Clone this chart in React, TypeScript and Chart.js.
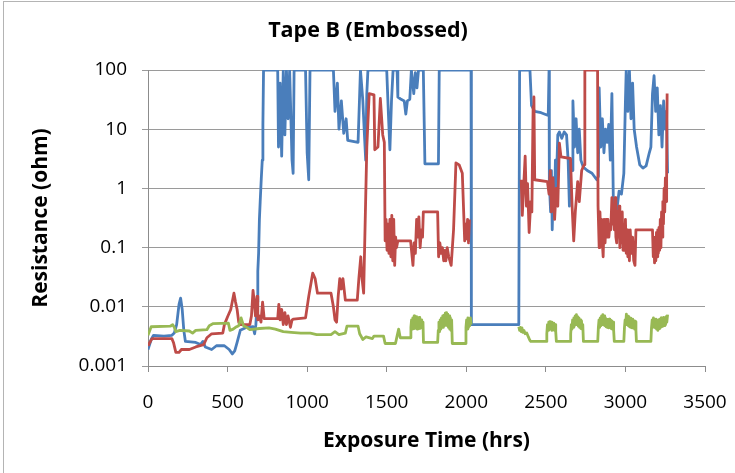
import React, { useEffect, useRef } from "react";
import { Chart, registerables } from "chart.js";

Chart.register(...registerables);

const chartTitle = "Tape B (Embossed)";
const xAxisTitle = "Exposure Time (hrs)";
const yAxisTitle = "Resistance (ohm)";

const xTickValues = [0, 500, 1000, 1500, 2000, 2500, 3000, 3500];
const yTickValues = [0.001, 0.01, 0.1, 1, 10, 100];
const yTickLabels = ["0.001", "0.01", "0.1", "1", "10", "100"];

// [hours, ohm]
const blueSeries: [number, number | null][] = [
  [0, 0.0019], [20, 0.0028], [35, 0.0033], [100, 0.0032], [150, 0.0033], [165, 0.0036],
  [180, 0.005], [195, 0.011], [205, 0.014], [215, 0.009], [225, 0.004], [235, 0.0026],
  [300, 0.0025], [330, 0.0023], [345, 0.0026], [360, 0.0021], [400, 0.0019], [430, 0.0022],
  [480, 0.0022], [510, 0.0019], [530, 0.0016], [545, 0.0018], [560, 0.0025], [580, 0.004],
  [620, 0.0045], [660, 0.0046], [670, 0.0035], [678, 0.005], [685, 0.012], [690, 0.04],
  [695, 0.08], [700, 0.3], [705, 0.6], [712, 1.5], [718, 3], [722, 12], [726, 100],
  [815, 100], [820, 5], [830, 60], [840, 3.5], [850, 100], [860, 8], [870, 100], [880, 15],
  [890, 100], [905, 3], [912, 1.8], [918, 100], [990, 100], [1000, 4], [1010, 1.4],
  [1018, 100], [1165, 100], [1175, 20], [1190, 60], [1200, 10], [1215, 30], [1230, 8.5],
  [1245, 15], [1255, 6.5], [1320, 6], [1335, 100], [1350, 30], [1360, 8], [1368, 3],
  [1375, 40], [1382, 100], [1500, 100], [1510, 20], [1520, 4.5], [1530, 30], [1540, 100],
  [1565, 100], [1570, 35], [1590, 32], [1610, 30], [1620, 18], [1630, 30], [1645, 32],
  [1655, 100], [1670, 40], [1680, 90], [1690, 50], [1700, 100], [1730, 100], [1740, 2.6],
  [1825, 2.6], [1830, 100], [2030, 100], [2032, 0.005], [2330, 0.005], [2335, 100],
  [2400, 100], [2410, 25], [2430, 20], [2470, 19], [2515, 17], [2520, 100], [2522, 1.2],
  [2530, 0.4], [2535, 2], [2540, 0.2], [2548, 1.5], [2555, 0.5], [2560, 3], [2565, 1],
  [2575, 8], [2585, 9], [2600, 7], [2615, 9], [2630, 8], [2640, 3], [2648, 0.5], [2655, 3],
  [2665, 2], [2670, 30], [2680, 5], [2690, 15], [2700, 4], [2710, 10], [2720, 3],
  [2735, 2.3], [2760, 2], [2790, 1.8], [2820, 1.4], [2830, 1.6], [2835, 50], [2845, 5],
  [2855, 15], [2865, 4], [2875, 10], [2885, 6], [2895, 12], [2905, 3], [2915, 40],
  [2925, 0.4], [2935, 0.6], [2945, 0.4], [2960, 0.9], [2975, 0.8], [2990, 1.8], [3000, 30],
  [3005, 100], [3015, 20], [3025, 100], [3035, 15], [3045, 60], [3055, 10], [3070, 5],
  [3090, 2.5], [3110, 2.2], [3130, 2.4], [3150, 4], [3160, 5], [3170, 40], [3180, 80],
  [3190, 20], [3200, 50], [3210, 8], [3220, 25], [3230, 5], [3240, 30], [3250, 10],
  [3258, 20], [3265, 1.8],
];

const redSeries: [number, number | null][] = [
  [0, 0.0022], [25, 0.0029], [150, 0.0029], [160, 0.0025], [175, 0.0017], [195, 0.0017],
  [210, 0.0019], [260, 0.0019], [300, 0.0021], [350, 0.0023], [370, 0.003], [400, 0.0035],
  [470, 0.0036], [480, 0.005], [500, 0.0068], [520, 0.009], [540, 0.017], [550, 0.012],
  [560, 0.009], [570, 0.0055], [580, 0.005], [640, 0.005], [650, 0.007], [660, 0.019],
  [668, 0.012], [675, 0.007], [685, 0.015], [690, 0.006], [700, 0.007], [710, 0.0055],
  [720, 0.012], [730, 0.0063], [815, 0.0063], [822, 0.011], [830, 0.006], [840, 0.009],
  [850, 0.005], [860, 0.008], [870, 0.005], [880, 0.007], [895, 0.0045], [905, 0.006],
  [915, 0.0062], [990, 0.0065], [1010, 0.015], [1035, 0.037], [1050, 0.03], [1065, 0.017],
  [1150, 0.017], [1165, 0.01], [1175, 0.006], [1185, 0.0055], [1195, 0.015], [1205, 0.03],
  [1215, 0.02], [1225, 0.03], [1240, 0.013], [1315, 0.013], [1325, 0.03], [1337, 0.07],
  [1345, 0.03], [1355, 0.017], [1365, 0.3], [1375, 5], [1390, 40], [1420, 38], [1425, 4.5],
  [1445, 5], [1460, 33], [1475, 8], [1485, 6], [1490, 0.13], [1496, 0.3], [1502, 0.09],
  [1508, 0.25], [1514, 0.08], [1520, 0.3], [1526, 0.07], [1532, 0.35], [1538, 0.06],
  [1544, 0.3], [1550, 0.05], [1556, 0.15], [1562, 0.1], [1570, 0.13],
  [1650, 0.13], [1665, 0.05], [1672, 0.12], [1680, 0.08], [1688, 0.3], [1695, 0.15],
  [1702, 0.33], [1710, 0.1], [1718, 0.2], [1725, 0.15], [1730, 0.4], [1820, 0.4],
  [1826, 0.07], [1834, 0.12], [1842, 0.08], [1850, 0.1], [1858, 0.06], [1865, 0.09],
  [1872, 0.06], [1880, 0.1], [1890, 0.07], [1905, 0.05], [1920, 0.2], [1935, 2.7],
  [1955, 2.5], [1975, 1.8], [1990, 0.13], [1996, 0.25], [2002, 0.14], [2008, 0.3],
  [2014, 0.12], [2020, 0.3], [2100, null],
  [2345, 1.4], [2352, 0.35], [2360, 1], [2370, 3.5], [2378, 0.5], [2385, 1.2], [2395, 0.18],
  [2405, 0.6], [2412, 0.4], [2420, 24], [2425, 35], [2430, 1.4], [2510, 1.3], [2520, 0.8],
  [2528, 2], [2535, 0.4], [2545, 1.5], [2555, 0.3], [2565, 1], [2575, 0.5], [2585, 5.8],
  [2595, 3.4], [2655, 3.2], [2665, 0.5], [2675, 0.13], [2685, 0.4], [2700, 1.3], [2710, 0.6],
  [2725, 2], [2740, 2.5], [2745, 100], [2825, 100], [2828, 0.5], [2835, 0.1], [2840, 0.4],
  [2845, 0.15], [2850, 0.3], [2855, 0.12], [2860, 0.07], [2866, 0.3], [2872, 0.12],
  [2878, 0.3], [2884, 0.15], [2890, 0.3], [2896, 0.15], [2902, 0.25], [2908, 0.2],
  [2915, 0.7], [2920, 0.25], [2925, 0.5], [2930, 0.2], [2935, 0.7], [2940, 0.15],
  [2945, 0.12], [2950, 0.4], [2955, 0.15], [2960, 0.5], [2965, 0.1], [2970, 0.35],
  [2975, 0.12], [2980, 0.4], [2985, 0.09], [2990, 0.25], [2995, 0.1], [3000, 0.3],
  [3005, 0.08], [3010, 0.2], [3015, 0.07], [3020, 0.15], [3025, 0.06], [3030, 0.2],
  [3038, 0.08], [3045, 0.15], [3052, 0.06], [3060, 0.05], [3066, 0.2],
  [3170, 0.2], [3175, 0.07], [3179, 0.15], [3183, 0.055], [3187, 0.12], [3191, 0.06],
  [3195, 0.18], [3199, 0.07], [3203, 0.2], [3207, 0.08], [3211, 0.22], [3215, 0.09],
  [3219, 0.3], [3223, 0.1], [3227, 0.4], [3231, 0.15], [3235, 0.6], [3239, 0.25],
  [3243, 1], [3247, 0.4], [3251, 1.5], [3255, 0.6], [3259, 2.3], [3262, 40],
];

const greenSeries: [number, number | null][] = [
  [0, 0.0033], [20, 0.0046], [140, 0.0047], [155, 0.005], [165, 0.0045], [175, 0.0038],
  [200, 0.004], [260, 0.0039], [280, 0.0036], [300, 0.004], [370, 0.0041], [385, 0.0048],
  [410, 0.0052], [505, 0.0053], [515, 0.004], [535, 0.0042], [550, 0.0045], [570, 0.0048],
  [585, 0.0065], [600, 0.0048], [620, 0.0045], [640, 0.0041], [700, 0.0043], [760, 0.0044],
  [800, 0.0042], [850, 0.0038], [900, 0.0037], [960, 0.0036], [1020, 0.0036], [1060, 0.0034],
  [1150, 0.0034], [1175, 0.0038], [1200, 0.0034], [1240, 0.0036], [1250, 0.0047],
  [1320, 0.0047], [1330, 0.0035], [1350, 0.0028], [1370, 0.0031], [1410, 0.0029],
  [1420, 0.0032], [1480, 0.0032], [1490, 0.0024], [1555, 0.0024], [1565, 0.0032],
  [1575, 0.0042], [1585, 0.003], [1648, 0.003],
  [1652, 0.0045], [1656, 0.006], [1660, 0.0042], [1664, 0.0065], [1668, 0.0045], [1672, 0.007],
  [1676, 0.0043], [1680, 0.0062], [1684, 0.0046], [1688, 0.0068], [1692, 0.0042], [1696, 0.006],
  [1700, 0.0045], [1704, 0.0066], [1708, 0.0043], [1712, 0.0058], [1716, 0.0044], [1720, 0.006],
  [1724, 0.0045], [1728, 0.0055], [1731, 0.0025], [1820, 0.0025],
  [1824, 0.004], [1828, 0.0055], [1832, 0.0038], [1836, 0.006], [1840, 0.0042], [1844, 0.0065],
  [1848, 0.0045], [1852, 0.007], [1856, 0.0045], [1860, 0.0072], [1864, 0.0048], [1868, 0.0078],
  [1872, 0.005], [1876, 0.008], [1880, 0.0048], [1884, 0.0075], [1888, 0.0045], [1892, 0.007],
  [1896, 0.0042], [1900, 0.0065], [1904, 0.004], [1908, 0.006], [1912, 0.0024], [1995, 0.0024],
  [1998, 0.0045], [2002, 0.006], [2006, 0.0042], [2010, 0.0065], [2014, 0.0045], [2018, 0.0062],
  [2022, 0.0048], [2026, 0.0065], [2030, 0.005], [2100, null],
  [2330, 0.0046], [2335, 0.004], [2340, 0.0045], [2345, 0.0038], [2350, 0.0044], [2355, 0.0037],
  [2362, 0.004], [2370, 0.0035], [2380, 0.0036], [2390, 0.0031], [2400, 0.0027], [2405, 0.0026],
  [2502, 0.0026], [2506, 0.0035], [2510, 0.005], [2514, 0.004], [2518, 0.0055], [2522, 0.0042],
  [2526, 0.0056], [2530, 0.0042], [2534, 0.0055], [2538, 0.004], [2542, 0.0052], [2546, 0.0041],
  [2550, 0.0053], [2554, 0.004], [2558, 0.005], [2562, 0.0038], [2566, 0.0026], [2652, 0.0026],
  [2656, 0.0035], [2660, 0.005], [2664, 0.0042], [2668, 0.006], [2672, 0.0045], [2676, 0.0065],
  [2680, 0.0048], [2684, 0.007], [2688, 0.005], [2692, 0.0074], [2696, 0.005], [2700, 0.0068],
  [2704, 0.0047], [2708, 0.0065], [2712, 0.0045], [2716, 0.006], [2720, 0.0043], [2724, 0.0058],
  [2728, 0.0042], [2732, 0.005], [2736, 0.0026], [2826, 0.0026],
  [2830, 0.0045], [2834, 0.006], [2838, 0.0045], [2842, 0.0065], [2846, 0.0048], [2850, 0.007],
  [2854, 0.005], [2858, 0.0074], [2862, 0.005], [2866, 0.007], [2870, 0.0048], [2874, 0.0065],
  [2878, 0.0046], [2882, 0.0062], [2886, 0.0045], [2890, 0.006], [2894, 0.0044], [2898, 0.0062],
  [2902, 0.0045], [2906, 0.006], [2910, 0.0043], [2914, 0.0058], [2918, 0.0042], [2922, 0.0055],
  [2926, 0.004], [2930, 0.0026], [2990, 0.0026],
  [2994, 0.0045], [2998, 0.006], [3002, 0.005], [3006, 0.0075], [3010, 0.005], [3014, 0.007],
  [3018, 0.0048], [3022, 0.0068], [3026, 0.0046], [3030, 0.0064], [3034, 0.0045], [3038, 0.006],
  [3042, 0.0044], [3046, 0.0062], [3050, 0.0044], [3054, 0.0058], [3058, 0.0042], [3062, 0.0056],
  [3066, 0.004], [3069, 0.0026], [3160, 0.0026],
  [3164, 0.0045], [3168, 0.006], [3172, 0.0045], [3176, 0.0065], [3180, 0.0046], [3184, 0.006],
  [3188, 0.0044], [3192, 0.0062], [3196, 0.0042], [3200, 0.0058], [3204, 0.004], [3208, 0.006],
  [3212, 0.0043], [3216, 0.0062], [3220, 0.0045], [3224, 0.0065], [3228, 0.0046], [3232, 0.0064],
  [3236, 0.0047], [3240, 0.0066], [3244, 0.0048], [3248, 0.0065], [3252, 0.005], [3256, 0.0068],
  [3260, 0.0055], [3265, 0.0074],
];

const BLUE = "#4a7ebb";
const RED = "#be4b48";
const GREEN = "#98b954";
const FONT = "'Open Sans', 'Noto Sans', sans-serif";

const W = 735;
const H = 473;

function toPoints(series: [number, number | null][]) {
  return series.map(([x, y]) => ({ x, y }));
}

const titlePlugin = {
  id: "centeredTitle",
  afterDraw(chart: any) {
    const ctx = chart.ctx;
    ctx.save();
    ctx.fillStyle = "#000";
    ctx.font = `bold 21.5px ${FONT}`;
    ctx.textAlign = "center";
    ctx.textBaseline = "middle";
    ctx.fillText(chartTitle, W / 2 + 0.5, 31);
    ctx.restore();
  },
};

export default function App() {
  const canvasRef = useRef<HTMLCanvasElement | null>(null);

  useEffect(() => {
    const canvas = canvasRef.current;
    if (!canvas) return;
    const chart = new Chart(canvas, {
      type: "line",
      data: {
        datasets: [
          { label: "green", data: toPoints(greenSeries), borderColor: GREEN },
          { label: "red", data: toPoints(redSeries), borderColor: RED },
          { label: "blue", data: toPoints(blueSeries), borderColor: BLUE },
        ].map((d) => ({
          ...d,
          borderWidth: 2.8,
          pointRadius: 0,
          tension: 0,
          fill: false,
          spanGaps: false,
          borderJoinStyle: "round" as const,
        })),
      },
      plugins: [titlePlugin],
      options: {
        responsive: false,
        animation: false,
        devicePixelRatio: 1,
        layout: { padding: { left: 0, right: 30, top: 70, bottom: 0 } },
        plugins: {
          legend: { display: false },
          tooltip: { enabled: false },
          title: { display: false },
        },
        scales: {
          x: {
            type: "linear",
            min: 0,
            max: 3500,
            afterBuildTicks: (scale: any) => {
              scale.ticks = xTickValues.map((v) => ({ value: v }));
            },
            afterFit: (scale: any) => {
              scale.height = H - 366;
              scale.paddingLeft = 0;
              scale.paddingRight = 0;
            },
            ticks: {
              color: "#000",
              font: { family: FONT, size: 19 },
              padding: 19,
              maxRotation: 0,
              callback: (v: any) => String(v),
            },
            grid: {
              drawOnChartArea: false,
              drawTicks: true,
              tickLength: 6,
              color: "#8c8c8c",
            },
            border: { display: true, color: "#8c8c8c", width: 1 },
            title: {
              display: true,
              text: xAxisTitle,
              color: "#000",
              font: { family: FONT, size: 21, weight: "bold" },
              padding: { top: 0, bottom: 19 },
            },
          },
          y: {
            type: "logarithmic",
            min: 0.001,
            max: 100,
            afterBuildTicks: (scale: any) => {
              scale.ticks = yTickValues.map((v) => ({ value: v }));
            },
            afterFit: (scale: any) => {
              scale.width = 148;
            },
            ticks: {
              color: "#000",
              font: { family: FONT, size: 19 },
              padding: 15,
              callback: (v: any) => {
                const i = yTickValues.findIndex((t) => Math.abs(t - v) / t < 1e-6);
                return i >= 0 ? yTickLabels[i] : "";
              },
            },
            grid: {
              drawOnChartArea: true,
              drawTicks: true,
              tickLength: 6,
              color: "#9a9a9a",
              lineWidth: 1,
            },
            border: { display: true, color: "#8c8c8c", width: 1 },
            title: {
              display: true,
              text: yAxisTitle,
              color: "#000",
              font: { family: FONT, size: 21, weight: "bold" },
              padding: { top: 28, bottom: 0 },
            },
          },
        },
      },
    } as any);
    return () => chart.destroy();
  }, []);

  return (
    <div
      style={{
        position: "fixed",
        left: 0,
        top: 0,
        width: W,
        height: H,
        background: "#fff",
      }}
    >
      <canvas
        ref={canvasRef}
        width={W}
        height={H}
        style={{ position: "absolute", left: 0, top: 0, width: W, height: H }}
      />
      <div
        style={{
          position: "absolute",
          left: 3,
          top: 1,
          right: 0,
          bottom: 0,
          borderTop: "1px solid #b4b4b4",
          borderLeft: "1px solid #b4b4b4",
          pointerEvents: "none",
        }}
      />
    </div>
  );
}
